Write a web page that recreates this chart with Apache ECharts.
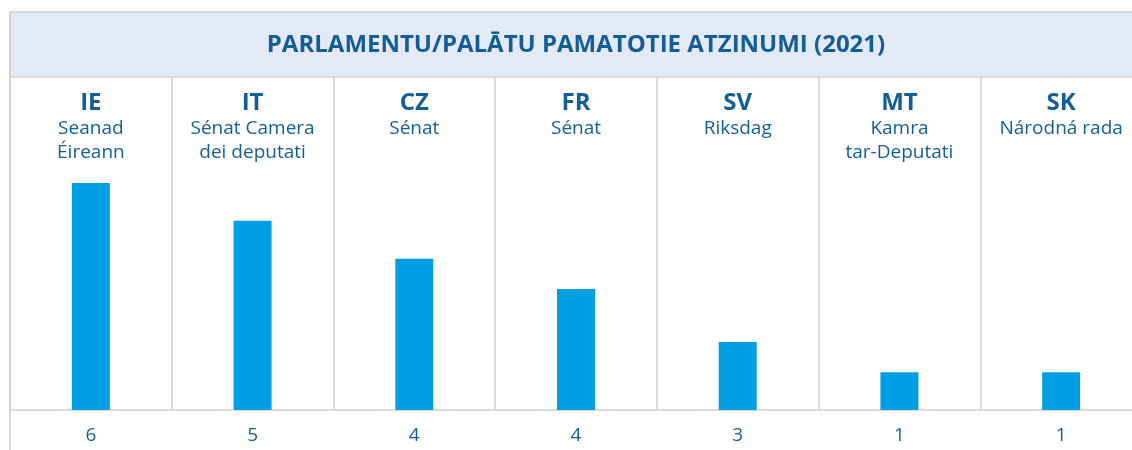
<!DOCTYPE html>
<html>
<head>
<meta charset="utf-8">
<script src="https://cdn.jsdelivr.net/npm/echarts@6/dist/echarts.min.js"></script>
<style>
  html, body { margin: 0; padding: 0; background: #fff; }
  #myChart { width: 1132px; height: 450px; }
</style>
</head>
<body>
<div id="myChart"></div>
<script>
  // chart data
  let codes = ['IE', 'IT', 'CZ', 'FR', 'SV', 'MT', 'SK'];
  let chambers = [
    ['Seanad', 'Éireann'],
    ['Sénat Camera', 'dei deputati'],
    ['Sénat'],
    ['Sénat'],
    ['Riksdag'],
    ['Kamra', 'tar-Deputati'],
    ['Národná rada']
  ];
  let opinions = [6, 5, 4, 4, 3, 1, 1];
  // bar heights as drawn in the picture (not always equal to the printed count)
  let barHeights = [6, 5, 4, 3.2, 1.8, 1, 1];
  let titleText = 'PARLAMENTU/PALĀTU PAMATOTIE ATZINUMI (2021)';

  let font = '"Open Sans", "Noto Sans", sans-serif';
  let blue = '#135e96';
  let gray = '#d0d0d0';

  let myChart = echarts.init(document.getElementById('myChart'));
  myChart.setOption({
    animation: false,
    title: {
      text: titleText,
      left: 571,
      textAlign: 'center',
      top: 28,
      textStyle: { color: blue, fontFamily: font, fontSize: 24, fontWeight: 'bold' }
    },
    graphic: [
      { type: 'rect', z: -1, shape: { x: 10, y: 12, width: 1140, height: 65 },
        style: { fill: '#e3e9f5', stroke: gray, lineWidth: 1.5 } },
      { type: 'line', shape: { x1: 10, y1: 12, x2: 10, y2: 450 },
        style: { stroke: gray, lineWidth: 1.5 } }
    ],
    grid: { left: 10, width: 1132, top: 77, bottom: 40, outerBoundsMode: 'none', containLabel: false },
    xAxis: [
      {
        type: 'category',
        data: codes,
        position: 'bottom',
        axisLine: { lineStyle: { color: gray, width: 1.5 } },
        axisTick: { show: false },
        splitLine: { show: true, lineStyle: { color: gray, width: 1.5 } },
        axisLabel: {
          margin: 16,
          color: blue,
          fontFamily: font,
          fontSize: 19,
          formatter: function (v, i) { return String(opinions[i]); }
        }
      },
      {
        type: 'category',
        data: codes,
        position: 'top',
        axisLine: { show: false },
        axisTick: { show: false },
        axisLabel: {
          inside: true,
          margin: 12,
          formatter: function (v, i) {
            return '{c|' + v + '}\n' + chambers[i].map(function (s) { return '{n|' + s + '}'; }).join('\n');
          },
          rich: {
            c: { color: blue, fontFamily: font, fontSize: 24, fontWeight: 'bold', lineHeight: 28 },
            n: { color: blue, fontFamily: font, fontSize: 19, lineHeight: 24 }
          }
        }
      }
    ],
    yAxis: {
      type: 'value',
      min: 0,
      max: 8.8,
      show: false,
      splitLine: { show: false }
    },
    series: [
      {
        type: 'bar',
        data: barHeights,
        barWidth: 38,
        itemStyle: { color: '#009fe3' }
      }
    ]
  });
</script>
</body>
</html>
